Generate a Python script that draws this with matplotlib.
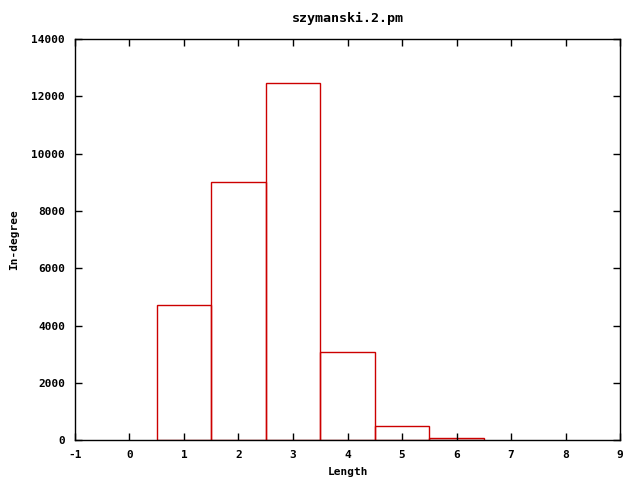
import matplotlib

matplotlib.use("Agg")

import matplotlib.pyplot as plt

lengths = [1, 2, 3, 4, 5, 6]
in_degree = [4710, 9000, 12460, 3070, 490, 70]
x_ticks = list(range(-1, 10))
y_ticks = list(range(0, 14001, 2000))

plt.rcParams["font.family"] = ["DejaVu Sans Mono"]
plt.rcParams["font.weight"] = "bold"
plt.rcParams["font.size"] = 8
plt.rcParams["axes.unicode_minus"] = False

fig = plt.figure(figsize=(6.4, 4.8), dpi=100)
ax = fig.add_axes([0.117, 0.083, 0.852, 0.836])
ax.bar(lengths, in_degree, width=1.0, fill=False, edgecolor="#cc0000", linewidth=1.0)
ax.set_xlim(-1, 9)
ax.set_ylim(0, 14000)
ax.set_xticks(x_ticks)
ax.set_yticks(y_ticks)
ax.tick_params(direction="in", top=True, right=True, length=5, width=1.0, pad=7)
for sp in ax.spines.values():
    sp.set_linewidth(1.0)
ax.set_xlabel("Length", fontweight="bold", labelpad=5)
ax.set_ylabel("In-degree", fontweight="bold", labelpad=9)
ax.set_title("szymanski.2.pm", fontweight="bold", pad=12)
fig.savefig("out.png", dpi=100)
